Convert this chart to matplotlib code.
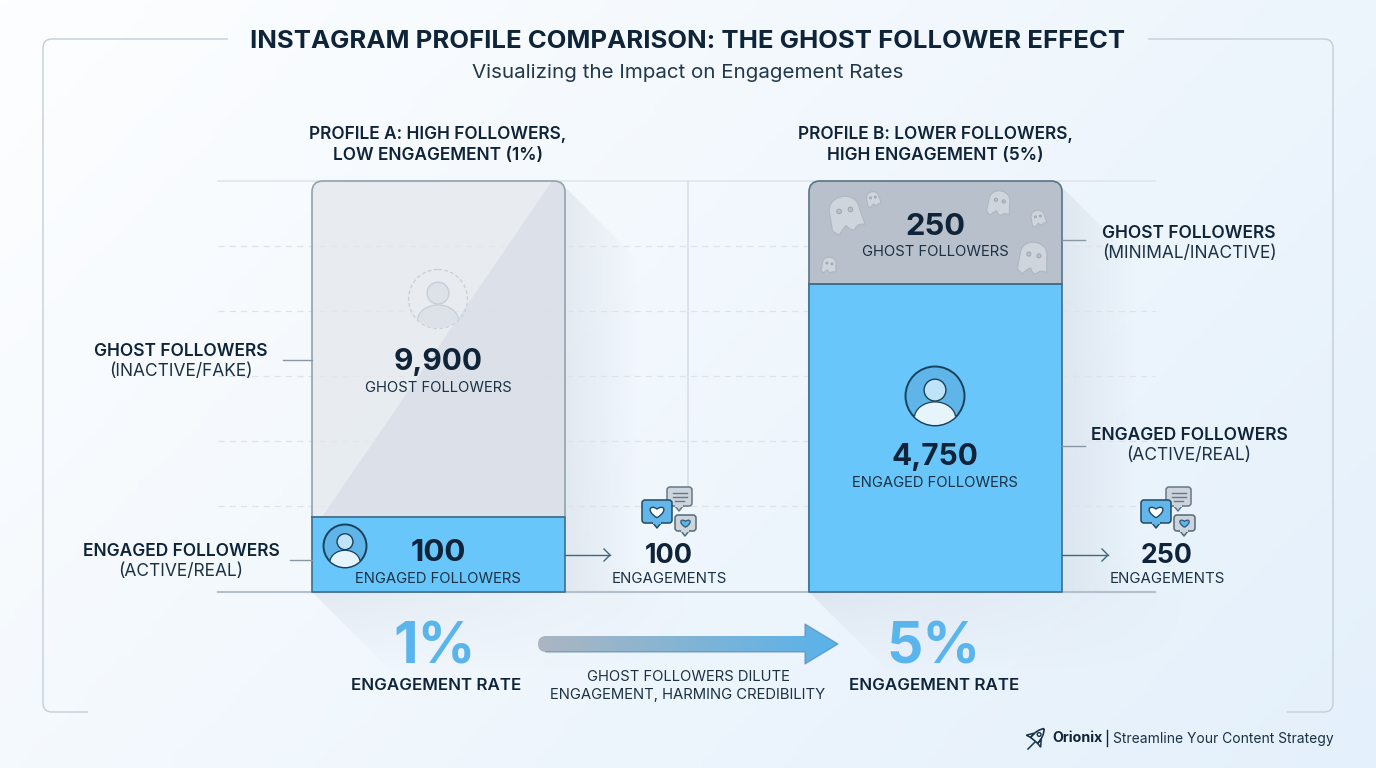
import matplotlib
matplotlib.use('Agg')
import matplotlib.pyplot as plt
import numpy as np
from matplotlib.path import Path
from matplotlib.patches import PathPatch, Polygon, Circle, Ellipse, FancyBboxPatch
from matplotlib.transforms import Affine2D

plt.rcParams['font.family'] = ['Inter', 'DejaVu Sans']

# data
profiles = ['PROFILE A: HIGH FOLLOWERS,\nLOW ENGAGEMENT (1%)', 'PROFILE B: LOWER FOLLOWERS,\nHIGH ENGAGEMENT (5%)']
engaged_counts = ['100', '4,750']
ghost_counts = ['9,900', '250']
engagements = ['100', '250']
rates = ['1%', '5%']
# the bars are not to scale in the picture, these are the shares as drawn
engaged_share = [18.4, 75.0]
ghost_share = [81.6, 25.0]

DARK = '#0f2438'
TEXT = '#1c3144'
BLUE = '#69c6fb'
W, H = 1376, 768

fig = plt.figure(figsize=(W / 100, H / 100), dpi=100)


def pixel_axes(z):
    a = fig.add_axes([0, 0, 1, 1], zorder=z)
    a.set_xlim(0, W)
    a.set_ylim(H, 0)
    a.axis('off')
    a.patch.set_alpha(0)
    a.autoscale(False)
    return a


bg = pixel_axes(0)
top = pixel_axes(5)

# background gradient
xx, yy = np.meshgrid(np.linspace(0, 1, 200), np.linspace(0, 1, 120))
t = (xx * 0.65 + yy * 0.35)[..., None]
c0 = np.array([253, 254, 255]) / 255
c1 = np.array([228, 240, 251]) / 255
bg.imshow(c0 + (c1 - c0) * t, extent=[0, W, H, 0], aspect='auto', zorder=0)


def fade(poly, box, a0=0.13, fade_x=True, fade_y=False, color=(0.5, 0.55, 0.62)):
    n = 100
    u, v = np.meshgrid(np.linspace(0, 1, n), np.linspace(0, 1, n))
    alpha = np.full((n, n), a0, dtype=float)
    if fade_x:
        alpha = alpha * (1 - u)
    if fade_y:
        alpha = alpha * (1 - v)
    img = np.zeros((n, n, 4))
    img[..., :3] = color
    img[..., 3] = alpha
    x0, x1, y0, y1 = box
    im = bg.imshow(img, extent=[x0, x1, y1, y0], aspect='auto', zorder=1)
    im.set_clip_path(Polygon(poly, transform=bg.transData))


# long shadows behind the bars
for dx in [0, 497]:
    fade([(565 + dx, 187), (640 + dx, 262), (640 + dx, 592), (565 + dx, 592)], (565 + dx, 640 + dx, 181, 592))
    fade([(312 + dx, 592), (395 + dx, 675), (700 + dx, 675), (700 + dx, 592)], (312 + dx, 700 + dx, 592, 675), fade_y=True)

# frame with gaps for title and footer
fc = '#c3ced8'
r = 9
left_frame = Path([(228, 39), (43 + r, 39), (43, 39), (43, 39 + r), (43, 712 - r), (43, 712), (43 + r, 712), (88, 712)],
                  [1, 2, 3, 3, 2, 3, 3, 2])
right_frame = Path([(1148, 39), (1333 - r, 39), (1333, 39), (1333, 39 + r), (1333, 712 - r), (1333, 712), (1333 - r, 712), (1287, 712)],
                   [1, 2, 3, 3, 2, 3, 3, 2])
for p in [left_frame, right_frame]:
    bg.add_patch(PathPatch(p, fc='none', ec=fc, lw=1.0, zorder=2))

# grid
bg.plot([218, 1155], [181, 181], color='#dde5eb', lw=1.1, zorder=2)
for y in [246, 311, 376, 441, 506]:
    bg.plot([218, 1155], [y, y], color='#dde3e9', lw=0.9, ls=(0, (5, 4)), zorder=2)
bg.plot([688, 688], [181, 490], color='#d6dee5', lw=1.1, zorder=2)

# bars
bar_ax = fig.add_axes([218 / W, (H - 592) / H, 937 / W, 411 / H], zorder=2)
bar_ax.set_xlim(-0.444, 1.443)
bar_ax.set_ylim(0, 100)
bar_ax.axis('off')
bar_ax.patch.set_alpha(0)
xs = np.arange(2)
bw = 0.51
b1 = bar_ax.bar(xs, engaged_share, width=bw, color=BLUE, edgecolor='none')
b2 = bar_ax.bar(xs, ghost_share, width=bw, bottom=engaged_share, color=['#e5e9ee', '#b8c1cb'], edgecolor='none')
b2[0].set_alpha(0.8)


def round_rect(x0, y0, x1, y1, rad):
    return FancyBboxPatch((x0 + rad, y0 + rad), x1 - x0 - 2 * rad, y1 - y0 - 2 * rad,
                          boxstyle='round,pad=%f,rounding_size=%f' % (rad, rad), transform=top.transData)


b2[0].set_clip_path(round_rect(312, 181, 565, 640, 11))
b2[1].set_clip_path(round_rect(809, 181, 1062, 640, 11))

# darker facet on the pale bar
facet = Polygon([(552, 181), (565, 181), (565, 517), (322, 517)], fc='#d5dbe4', ec='none', alpha=0.6, zorder=3, transform=top.transData)
top.add_patch(facet)
facet.set_clip_path(round_rect(312, 181, 565, 640, 11))


def outline(x0, y0, x1, y1, rad, color):
    p = Path([(x0, y1), (x0, y0 + rad), (x0, y0), (x0 + rad, y0), (x1 - rad, y0), (x1, y0), (x1, y0 + rad), (x1, y1), (x0, y1)],
             [1, 2, 3, 3, 2, 3, 3, 2, 2])
    top.add_patch(PathPatch(p, fc='none', ec=color, lw=1.2, zorder=4))


outline(312, 181, 565, 517, 11, '#93a2af')
outline(809, 181, 1062, 284, 11, '#5b7387')
top.plot([312, 565, 565, 312, 312], [517, 517, 592, 592, 517], color='#3d6f8e', lw=1.2, zorder=4)
top.plot([809, 1062, 1062, 809, 809], [284, 284, 592, 592, 284], color='#3d6f8e', lw=1.2, zorder=4)
bg.plot([218, 1155], [592, 592], color='#b3c0cc', lw=1.5, zorder=2)


def person(cx, cy, rad, ghost=False):
    if ghost:
        ring = Circle((cx, cy), rad, fc='none', ec='#c6ced6', lw=0.9, ls=(0, (3, 2)), zorder=5)
        headc, headec, bodyc = '#dde2e8', '#c6ced6', '#dde2e8'
    else:
        ring = Circle((cx, cy), rad, fc='#5fb5e8', ec='#17425c', lw=1.4, zorder=5)
        headc, headec, bodyc = '#bfe3f8', '#17425c', '#e6f4fc'
    top.add_patch(ring)
    clip = Circle((cx, cy), rad - 0.5, transform=top.transData)
    top.add_patch(Circle((cx, cy - rad * 0.2), rad * 0.37, fc=headc, ec=headec, lw=1.0, zorder=6))
    body = Ellipse((cx, cy + rad * 0.75), rad * 1.4, rad * 1.1, fc=bodyc, ec=headec, lw=0.9, zorder=6)
    top.add_patch(body)
    body.set_clip_path(clip)


person(438, 299, 29.5, ghost=True)
person(345, 546, 21.5)
person(935, 396, 29.5)

GHOST = Path([(-0.42, 0.42), (-0.42, -0.1), (-0.42, -0.62), (0.42, -0.62), (0.42, -0.1), (0.5, 0.38),
              (0.3, 0.3), (0.2, 0.46), (0.08, 0.52), (-0.02, 0.32), (-0.12, 0.36), (-0.25, 0.55), (-0.42, 0.42)],
             [1, 2, 4, 4, 4, 2, 3, 3, 3, 3, 3, 3, 2])


def ghost(cx, cy, size, rot):
    tr = Affine2D().scale(size).rotate_deg(rot).translate(cx, cy) + top.transData
    top.add_patch(PathPatch(GHOST, fc='#cfd5dc', ec='#aeb7c0', lw=0.8, transform=tr, zorder=5))
    for ex in [-0.15, 0.17]:
        top.add_patch(Circle((ex, -0.1), 0.065, fc='#b9c1ca', ec='#98a2ac', lw=0.6, transform=tr, zorder=6))


for g in [(845, 214, 36, -10), (873, 199, 15, -10), (999, 203, 25, 12), (1038, 218, 16, -10),
          (1033, 258, 32, 10), (829, 265, 16, 10)]:
    ghost(*g)

HEART = Path([(0, 0.5), (-0.9, -0.05), (-0.55, -0.6), (0, -0.2), (0.55, -0.6), (0.9, -0.05), (0, 0.5)],
             [1, 4, 4, 4, 4, 4, 4])


def bubble(x0, y0, x1, y1, fill, ec, tail_x):
    top.add_patch(FancyBboxPatch((x0 + 3, y0 + 3), x1 - x0 - 6, y1 - y0 - 6, boxstyle='round,pad=3,rounding_size=3',
                                 fc=fill, ec=ec, lw=1.1, zorder=6))
    top.add_patch(Polygon([(tail_x - 4, y1), (tail_x, y1 + 5), (tail_x + 4, y1)], fc=fill, ec='none', zorder=7))
    top.plot([tail_x - 4, tail_x, tail_x + 4], [y1, y1 + 5, y1], color=ec, lw=1.1, zorder=7)
    top.plot([tail_x - 3.2, tail_x + 3.2], [y1 - 0.2, y1 - 0.2], color=fill, lw=1.5, zorder=7)


def chat(dx):
    bubble(667 + dx, 487, 692 + dx, 506, '#ccd4dc', '#66788a', 679 + dx)
    for y, hw in [(493, 7), (497, 7), (501, 4.5)]:
        top.plot([679.5 + dx - hw, 679.5 + dx + hw], [y, y], color='#66788a', lw=1, zorder=8)
    bubble(675 + dx, 515, 696 + dx, 531, '#ccd4dc', '#55697b', 685 + dx)
    tr = Affine2D().scale(8.5).translate(685.5 + dx, 523) + top.transData
    top.add_patch(PathPatch(HEART, fc='#5fb5e8', ec='#2e5a78', lw=0.9, transform=tr, zorder=8))
    bubble(642 + dx, 500, 672 + dx, 523, '#62b6ea', '#1f4a66', 657 + dx)
    tr = Affine2D().scale(12.5).translate(657 + dx, 511.5) + top.transData
    top.add_patch(PathPatch(HEART, fc='white', ec='#1f4a66', lw=1, transform=tr, zorder=8))


chat(0)
chat(499)

# leader lines and small arrows
for x0, x1, y in [(283, 312, 360), (290, 312, 560), (1062, 1085, 240), (1062, 1085, 446)]:
    top.plot([x0, x1], [y, y], color='#8797a5', lw=1.0, zorder=4)
for x0, x1 in [(565, 610), (1062, 1108)]:
    top.plot([x0, x1], [555, 555], color='#3d6880', lw=1.0, zorder=4)
    top.plot([x1 - 6, x1, x1 - 6], [549, 555, 561], color='#3d6880', lw=1.0, zorder=4)

# big gradient arrow
ramp = np.linspace(0, 1, 200)[None, :, None]
ca = np.array([172, 182, 193]) / 255
cb = np.array([88, 178, 234]) / 255
arr = top.imshow(ca + (cb - ca) * ramp, extent=[538, 838, 664, 624], aspect='auto', zorder=4)
arrow_path = Path([(546, 636), (805, 636), (805, 624), (838, 644), (805, 664), (805, 652), (546, 652), (538, 652), (538, 644), (538, 636), (546, 636)],
                  [1, 2, 2, 2, 2, 2, 2, 3, 3, 3, 3])
arr.set_clip_path(PathPatch(arrow_path, transform=top.transData))
top.plot([546, 805, 805, 838, 805, 805], [652, 652, 664, 644, 624, 636], color='#4d7fa0', lw=0.9, alpha=0.6, zorder=5)


def txt(x, y, s, size, weight='normal', color=TEXT, ha='center', ls=1.2):
    top.text(x, y + 2, s, fontsize=size, fontweight=weight, color=color, ha=ha, va='center', linespacing=ls, zorder=9)


# titles
txt(688, 40, 'INSTAGRAM PROFILE COMPARISON: THE GHOST FOLLOWER EFFECT', 18.5, 'bold', DARK)
txt(688, 71, 'Visualizing the Impact on Engagement Rates', 14.8, color='#22384b')
txt(438, 143, profiles[0], 12.45, 'semibold', DARK, ls=1.3)
txt(935, 143, profiles[1], 12.45, 'semibold', DARK, ls=1.3)

# bar labels
txt(438, 360, ghost_counts[0], 21.5, 'bold', DARK)
txt(438, 386, 'GHOST FOLLOWERS', 10.7)
txt(438, 551, engaged_counts[0], 22.5, 'bold', DARK)
txt(438, 577, 'ENGAGED FOLLOWERS', 10.7)
txt(935, 225, ghost_counts[1], 22.3, 'bold', DARK)
txt(935, 250, 'GHOST FOLLOWERS', 10.7)
txt(935, 455, engaged_counts[1], 21.5, 'bold', DARK)
txt(935, 481, 'ENGAGED FOLLOWERS', 10.7)

# side labels
side = [(181, 349, 369, 'GHOST FOLLOWERS', '(INACTIVE/FAKE)'), (181, 549, 570, 'ENGAGED FOLLOWERS', '(ACTIVE/REAL)'),
        (1189, 231, 252, 'GHOST FOLLOWERS', '(MINIMAL/INACTIVE)'), (1189, 433, 454, 'ENGAGED FOLLOWERS', '(ACTIVE/REAL)')]
for x, y1, y2, a, b in side:
    txt(x, y1, a, 12.5, 'semibold', DARK)
    txt(x, y2, b, 12.5)

# engagements
txt(668.5, 554, engagements[0], 19.5, 'bold', DARK)
txt(669, 577, 'ENGAGEMENTS', 10.8)
txt(1167, 554, engagements[1], 19.2, 'bold', DARK)
txt(1167, 577, 'ENGAGEMENTS', 10.8)

# rates
txt(435, 646, rates[0], 41, 'bold', '#59b5ec')
txt(933, 646, rates[1], 41, 'bold', '#59b5ec')
txt(436, 684, 'ENGAGEMENT RATE', 12.2, 'semibold', DARK)
txt(934, 684, 'ENGAGEMENT RATE', 12.2, 'semibold', DARK)
txt(688, 684, 'GHOST FOLLOWERS DILUTE\nENGAGEMENT, HARMING CREDIBILITY', 10.7, ls=1.32)

# footer
ROCKET = Path([(0, -1), (0.45, -0.5), (0.42, 0.4), (-0.42, 0.4), (-0.45, -0.5), (0, -1)], [1, 3, 2, 2, 3, 3])
tr = Affine2D().scale(11).rotate_deg(40).translate(1037, 737) + top.transData
top.add_patch(PathPatch(ROCKET, fc='none', ec='#17344a', lw=1.2, transform=tr, zorder=9))
top.add_patch(Circle((0, -0.3), 0.17, fc='none', ec='#17344a', lw=1, transform=tr, zorder=9))
for sgn in [-1, 1]:
    top.add_patch(Polygon([(sgn * 0.42, -0.1), (sgn * 0.85, 0.5), (sgn * 0.42, 0.4)], fc='none', ec='#17344a', lw=1.1, transform=tr, zorder=9))
top.plot([1035, 1028], [742, 749], color='#17344a', lw=1.1, zorder=9)
txt(1052, 736.5, 'Orionix', 10.3, 'bold', DARK, ha='left')
top.plot([1107, 1107], [730, 746], color=DARK, lw=1, zorder=9)
txt(1113, 736.5, 'Streamline Your Content Strategy', 10.0, color=TEXT, ha='left')

fig.savefig('out.png', dpi=100)
